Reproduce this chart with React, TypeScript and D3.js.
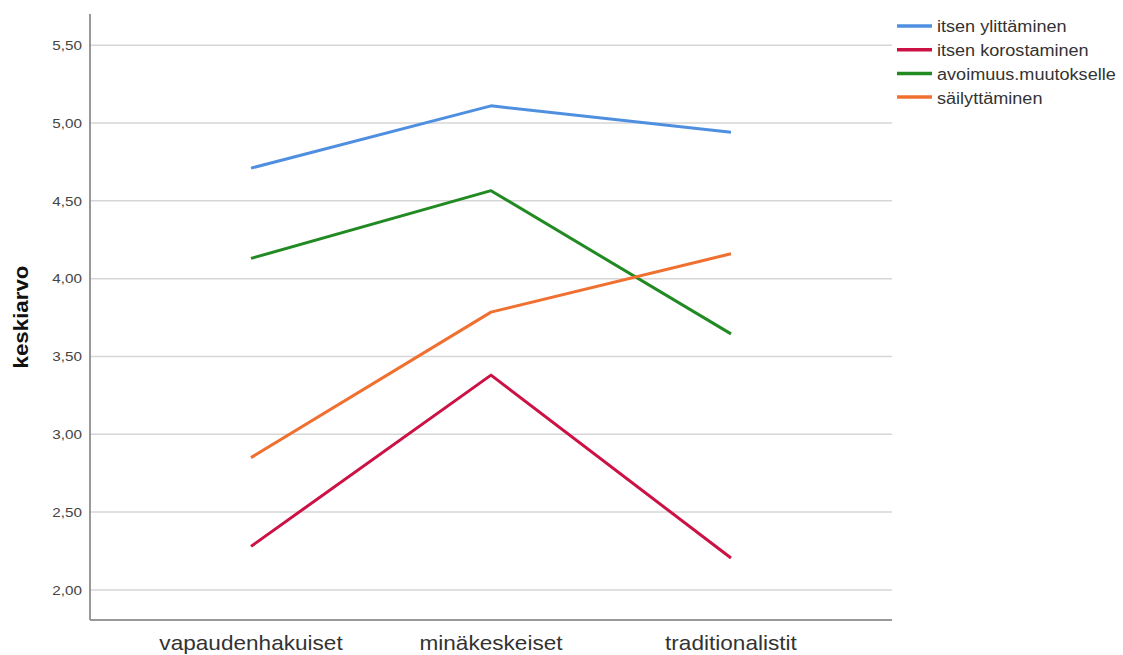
import React from "react";
import * as d3 from "d3";

const categories = ["vapaudenhakuiset", "minäkeskeiset", "traditionalistit"];
const seriesNames = ["itsen ylittäminen", "itsen korostaminen", "avoimuus.muutokselle", "säilyttäminen"];
const seriesColors = ["#4f8fe0", "#cc1144", "#228a22", "#f07030"];
const itsenYlittaminen = [4.71, 5.11, 4.94];
const itsenKorostaminen = [2.28, 3.38, 2.205];
const avoimuusMuutokselle = [4.13, 4.565, 3.645];
const sailyttaminen = [2.85, 3.785, 4.16];
const yTicks = [2.0, 2.5, 3.0, 3.5, 4.0, 4.5, 5.0, 5.5];

const seriesValues = [itsenYlittaminen, itsenKorostaminen, avoimuusMuutokselle, sailyttaminen];

export default function App() {
  const W = 1123, H = 655;
  const left = 90, right = 892, top = 14, bottom = 620;
  const x = d3.scalePoint<string>().domain(categories).range([left, right]).padding(0.671);
  const y = d3.scaleLinear().domain([1.807, 5.70]).range([bottom, top]);
  const line = d3.line<number>().x((_, i) => x(categories[i]) as number).y((v) => y(v));
  const fmt = (v: number) => v.toFixed(2).replace(".", ",");
  const font = "'Liberation Sans', Arial, sans-serif";
  const sx = 1.13;

  return (
    <svg width={W} height={H} style={{ position: "absolute", left: 0, top: 0, background: "#fff" }} fontFamily={font}>
      {yTicks.map((t) => (
        <g key={t}>
          <line x1={left} x2={right} y1={y(t)} y2={y(t)} stroke="#d6d6d6" strokeWidth={1.5} />
          <text transform={`translate(82,${y(t)}) scale(${sx},1)`} dy="0.35em" textAnchor="end" fontSize={13.5} fill="#444">{fmt(t)}</text>
        </g>
      ))}
      <line x1={left} x2={left} y1={top} y2={bottom} stroke="#999" strokeWidth={2} />
      <line x1={left} x2={right} y1={bottom} y2={bottom} stroke="#999" strokeWidth={2} />
      {categories.map((c) => (
        <text key={c} transform={`translate(${x(c)},650) scale(${sx},1)`} textAnchor="middle" fontSize={20} fill="#333">{c}</text>
      ))}
      <text transform={`translate(28,317) rotate(-90)`} textAnchor="middle" fontSize={21} fontWeight="bold" fill="#111" textLength={103} lengthAdjust="spacingAndGlyphs">keskiarvo</text>
      {seriesValues.map((vals, i) => (
        <path key={i} d={line(vals) || ""} fill="none" stroke={seriesColors[i]} strokeWidth={3} strokeLinejoin="round" />
      ))}
      {seriesNames.map((n, i) => (
        <g key={n} transform={`translate(0,${26 + i * 23.7})`}>
          <line x1={897} x2={932} y1={0} y2={0} stroke={seriesColors[i]} strokeWidth={3.5} />
          <text transform={`translate(937,0) scale(${sx},1)`} dy="0.4em" fontSize={16} fill="#333">{n}</text>
        </g>
      ))}
    </svg>
  );
}
